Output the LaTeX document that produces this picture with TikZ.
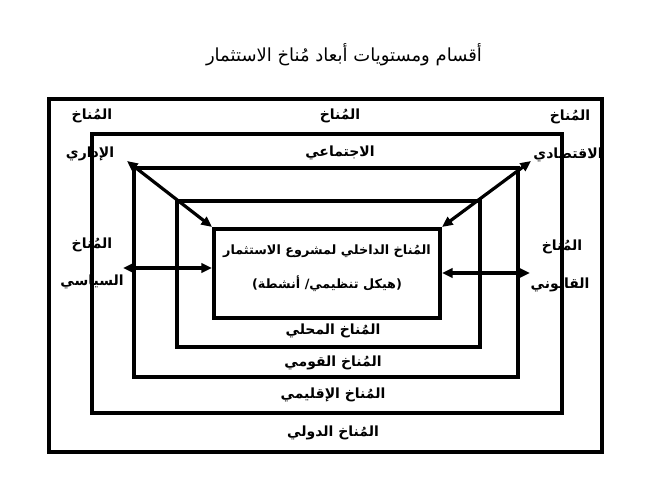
\documentclass[tikz,border=0pt]{standalone}
\usepackage{fontspec}
\newfontfamily\arabicfont[Script=Arabic]{DejaVu Sans}
\TeXXeTstate=1
\usetikzlibrary{arrows.meta, positioning}
\tikzstyle{frame} = [line width=3pt]
\tikzstyle{lbl} = [font=\arabicfont\bfseries\fontsize{10.5}{12}\selectfont, inner sep=1pt]
\tikzstyle{heading} = [font=\arabicfont\fontsize{13.5}{16}\selectfont, inner sep=1pt]
\tikzstyle{core} = [rectangle, draw=black, line width=3pt, minimum width=169.5pt, minimum height=66.75pt]
\tikzstyle{arrow} = [line width=2.4pt, {Triangle[length=8pt,width=7pt]}-{Triangle[length=8pt,width=7pt]}]
\newcommand{\artext}[1]{\beginR #1\endR}

\begin{document}
\begin{tikzpicture}[x=0.75pt, y=-0.75pt]
    \useasboundingbox (0,0) rectangle (664,498);
    % Title
    \node (title) [heading] at (344,55) {\artext{أقسام ومستويات أبعاد مُناخ الاستثمار}};

    % Frames - from outside to inside
    \draw [frame] (49,99) rectangle (602,452);
    \draw [frame] (92,134) rectangle (562,413);
    \draw [frame] (134,168) rectangle (518,377);
    \draw [frame] (177,201) rectangle (480,347);
    \node (inner) [core] at (327,273.5) {};
    \node (inner1) [lbl, font=\arabicfont\bfseries\fontsize{9.6}{12}\selectfont] at (327,251) {\artext{المُناخ الداخلي لمشروع الاستثمار}};
    \node (inner2) [lbl, font=\arabicfont\bfseries\fontsize{9.6}{12}\selectfont] at (327,284) {\artext{(هيكل تنظيمي/ أنشطة)}};

    % Labels
    \node (admin1) [lbl] at (92,116) {\artext{المُناخ}};
    \node (admin2) [lbl] at (90,154) {\artext{الإداري}};
    \node (social1) [lbl] at (340,116) {\artext{المُناخ}};
    \node (social2) [lbl] at (340,153) {\artext{الاجتماعي}};
    \node (econ1) [lbl] at (570,117) {\artext{المُناخ}};
    \node (econ2) [lbl] at (568,155) {\artext{الاقتصادي}};
    \node (pol1) [lbl] at (92,245) {\artext{المُناخ}};
    \node (pol2) [lbl] at (92,282) {\artext{السياسي}};
    \node (law1) [lbl] at (562,247) {\artext{المُناخ}};
    \node (law2) [lbl] at (560,285) {\artext{القانوني}};
    \node (local) [lbl] at (333,331) {\artext{المُناخ المحلي}};
    \node (national) [lbl] at (333,363) {\artext{المُناخ القومي}};
    \node (regional) [lbl] at (333,395) {\artext{المُناخ الإقليمي}};
    \node (intl) [lbl] at (333,433) {\artext{المُناخ الدولي}};

    % Arrow ends
    \coordinate (adminEnd) at (127,161);
    \coordinate (econEnd) at (531,161);
    \coordinate (polEnd) at (123,268);
    \coordinate (lawEnd) at (530,273);

    % Arrows
    \draw [arrow] (adminEnd) -- (inner.north west);
    \draw [arrow] (econEnd) -- (inner.north east);
    \draw [arrow] (polEnd) -- (polEnd -| inner.west);
    \draw [arrow] (lawEnd -| inner.east) -- (lawEnd);
\end{tikzpicture}
\end{document}
